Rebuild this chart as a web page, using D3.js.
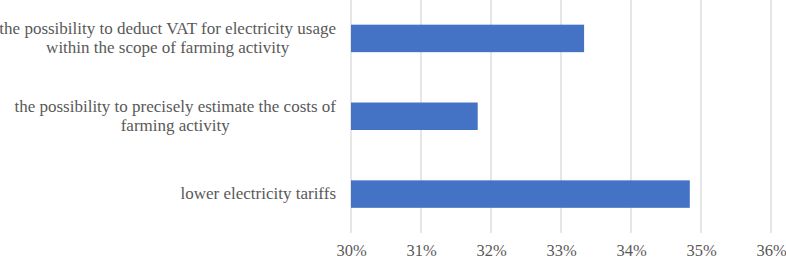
<!DOCTYPE html>
<html><head><meta charset="utf-8">
<script src="https://cdn.jsdelivr.net/npm/d3@7"></script>
<style>html,body{margin:0;padding:0;background:#fff;}</style>
</head><body>
<svg id="chart" width="786" height="259"></svg>
<script>
const categories = [
  ["the possibility to deduct VAT for electricity usage", "within the scope of farming activity"],
  ["the possibility to precisely estimate the costs of", "farming activity"],
  ["lower electricity tariffs"]
];
const values = [33.33, 31.81, 34.84];
const tickValues = [30, 31, 32, 33, 34, 35, 36];
const tickLabels = ["30%", "31%", "32%", "33%", "34%", "35%", "36%"];

(function () {
const svg = d3.select("#chart");
const mLeft = 351, mRight = 771, mTop = -0.5, mBottom = 233;
const x = d3.scaleLinear().domain([30, 36]).range([mLeft, mRight]);
const y = d3.scaleBand().domain(d3.range(categories.length)).range([mTop, mBottom]).paddingInner(0.647).paddingOuter(0.3235);

const fontFam = "'Liberation Serif', 'Times New Roman', serif";
const textColor = "#595959";

// gridlines
svg.append("g").selectAll("line").data(tickValues).join("line")
  .attr("x1", d => x(d)).attr("x2", d => x(d))
  .attr("y1", 0).attr("y2", mBottom)
  .attr("stroke", "#d9d9d9").attr("stroke-width", 1.3);

// bars
svg.append("g").selectAll("rect").data(values).join("rect")
  .attr("x", x(30)).attr("y", (d, i) => y(i))
  .attr("width", d => x(d) - x(30)).attr("height", y.bandwidth())
  .attr("fill", "#4472C4");

// x axis
const xAxis = d3.axisBottom(x).tickValues(tickValues).tickFormat((d, i) => tickLabels[i]).tickSize(0).tickPadding(0);
const gx = svg.append("g").attr("transform", `translate(0,${mBottom})`).call(xAxis);
gx.select(".domain").remove();
gx.attr("font-family", null).attr("font-size", null);
gx.selectAll("text").attr("dy", null).attr("y", 23)
  .style("font-family", fontFam).style("font-size", "16.5px").attr("fill", textColor);

// category labels
const labelRight = 336;
const lineH = 19;
categories.forEach((lines, i) => {
  const cy = y(i) + y.bandwidth() / 2;
  const g = svg.append("g");
  const texts = lines.map((t, j) => g.append("text").text(t)
    .style("font-family", fontFam).style("font-size", "17px").attr("fill", textColor)
    .attr("text-anchor", "middle")
    .attr("y", cy + 5 + (j - (lines.length - 1) / 2) * lineH));
  const maxW = d3.max(texts, t => t.node().getComputedTextLength());
  texts.forEach(t => t.attr("x", labelRight - maxW / 2));
});
})();
</script>
</body></html>
